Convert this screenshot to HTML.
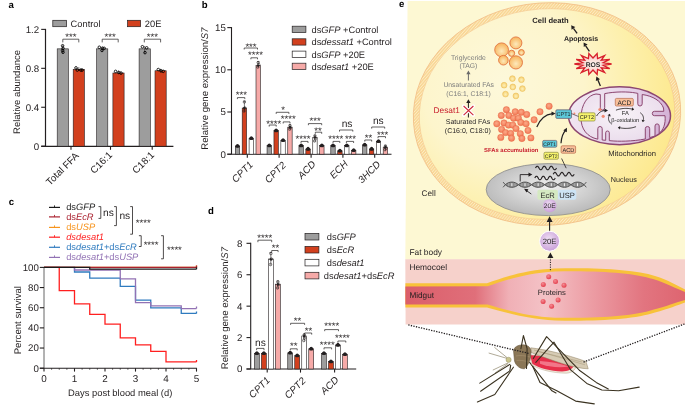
<!DOCTYPE html>
<html><head><meta charset="utf-8"><style>
html,body{margin:0;padding:0;background:#fff;}
svg{display:block;will-change:transform;}
text{font-family:"Liberation Sans", sans-serif;text-rendering:geometricPrecision;}
</style></head><body>
<svg width="685" height="406" viewBox="0 0 685 406">
<text x="8.60" y="7.90" font-size="9.6" text-anchor="start" fill="#000" font-weight="bold" font-style="normal" >a</text>
<line x1="45.50" y1="28.88" x2="45.50" y2="146.80" stroke="#231f20" stroke-width="1.2" />
<line x1="41.20" y1="146.40" x2="173.40" y2="146.40" stroke="#231f20" stroke-width="1.2" />
<line x1="41.20" y1="29.38" x2="45.50" y2="29.38" stroke="#231f20" stroke-width="1.1" />
<text x="39.20" y="32.83" font-size="9.7" text-anchor="end" fill="#231f20" font-weight="normal" font-style="normal" >1.2</text>
<line x1="41.20" y1="68.32" x2="45.50" y2="68.32" stroke="#231f20" stroke-width="1.1" />
<text x="39.20" y="71.77" font-size="9.7" text-anchor="end" fill="#231f20" font-weight="normal" font-style="normal" >0.8</text>
<line x1="41.20" y1="107.26" x2="45.50" y2="107.26" stroke="#231f20" stroke-width="1.1" />
<text x="39.20" y="110.71" font-size="9.7" text-anchor="end" fill="#231f20" font-weight="normal" font-style="normal" >0.4</text>
<line x1="41.20" y1="146.20" x2="45.50" y2="146.20" stroke="#231f20" stroke-width="1.1" />
<text x="39.20" y="149.65" font-size="9.7" text-anchor="end" fill="#231f20" font-weight="normal" font-style="normal" >0</text>
<line x1="71.00" y1="146.20" x2="71.00" y2="149.80" stroke="#231f20" stroke-width="1.1" />
<line x1="110.50" y1="146.20" x2="110.50" y2="149.80" stroke="#231f20" stroke-width="1.1" />
<line x1="152.20" y1="146.20" x2="152.20" y2="149.80" stroke="#231f20" stroke-width="1.1" />
<rect x="57.20" y="48.85" width="11.20" height="97.35" fill="#9d9d9d" stroke="#231f20" stroke-width="0.6" />
<line x1="62.80" y1="44.95" x2="62.80" y2="53.05" stroke="#231f20" stroke-width="0.6" />
<circle cx="62.60" cy="45.75" r="1.30" fill="none" stroke="#000" stroke-width="0.85" />
<circle cx="63.00" cy="48.35" r="1.30" fill="none" stroke="#000" stroke-width="0.85" />
<circle cx="62.60" cy="50.45" r="1.30" fill="none" stroke="#000" stroke-width="0.85" />
<circle cx="63.00" cy="52.25" r="1.30" fill="none" stroke="#000" stroke-width="0.85" />
<rect x="73.20" y="69.29" width="11.20" height="76.91" fill="#d2401e" stroke="#231f20" stroke-width="0.6" />
<line x1="78.80" y1="67.09" x2="78.80" y2="70.89" stroke="#231f20" stroke-width="0.6" />
<circle cx="76.00" cy="67.89" r="1.30" fill="none" stroke="#000" stroke-width="0.85" />
<circle cx="77.30" cy="70.09" r="1.30" fill="none" stroke="#000" stroke-width="0.85" />
<circle cx="80.80" cy="70.09" r="1.30" fill="none" stroke="#000" stroke-width="0.85" />
<circle cx="82.10" cy="70.09" r="1.30" fill="none" stroke="#000" stroke-width="0.85" />
<rect x="96.60" y="48.85" width="11.20" height="97.35" fill="#9d9d9d" stroke="#231f20" stroke-width="0.6" />
<line x1="102.20" y1="46.45" x2="102.20" y2="51.25" stroke="#231f20" stroke-width="0.6" />
<circle cx="99.30" cy="47.25" r="1.30" fill="none" stroke="#000" stroke-width="0.85" />
<circle cx="102.60" cy="48.35" r="1.30" fill="none" stroke="#000" stroke-width="0.85" />
<circle cx="104.20" cy="48.35" r="1.30" fill="none" stroke="#000" stroke-width="0.85" />
<circle cx="102.00" cy="50.45" r="1.30" fill="none" stroke="#000" stroke-width="0.85" />
<rect x="112.90" y="72.99" width="11.20" height="73.21" fill="#d2401e" stroke="#231f20" stroke-width="0.6" />
<line x1="118.50" y1="70.59" x2="118.50" y2="73.89" stroke="#231f20" stroke-width="0.6" />
<circle cx="115.60" cy="71.39" r="1.30" fill="none" stroke="#000" stroke-width="0.85" />
<circle cx="118.80" cy="72.49" r="1.30" fill="none" stroke="#000" stroke-width="0.85" />
<circle cx="121.00" cy="73.09" r="1.30" fill="none" stroke="#000" stroke-width="0.85" />
<rect x="139.10" y="48.85" width="11.20" height="97.35" fill="#9d9d9d" stroke="#231f20" stroke-width="0.6" />
<line x1="144.70" y1="45.95" x2="144.70" y2="53.45" stroke="#231f20" stroke-width="0.6" />
<circle cx="142.40" cy="46.75" r="1.30" fill="none" stroke="#000" stroke-width="0.85" />
<circle cx="146.70" cy="47.85" r="1.30" fill="none" stroke="#000" stroke-width="0.85" />
<circle cx="145.00" cy="52.65" r="1.30" fill="none" stroke="#000" stroke-width="0.85" />
<rect x="155.00" y="70.75" width="11.20" height="75.45" fill="#d2401e" stroke="#231f20" stroke-width="0.6" />
<line x1="160.60" y1="68.75" x2="160.60" y2="72.15" stroke="#231f20" stroke-width="0.6" />
<circle cx="158.30" cy="69.55" r="1.30" fill="none" stroke="#000" stroke-width="0.85" />
<circle cx="161.00" cy="70.85" r="1.30" fill="none" stroke="#000" stroke-width="0.85" />
<circle cx="163.20" cy="71.35" r="1.30" fill="none" stroke="#000" stroke-width="0.85" />
<path d="M62.80,42.40 V39.20 H78.80 V42.40" fill="none" stroke="#231f20" stroke-width="0.7" />
<text x="70.80" y="39.70" font-size="9.6" text-anchor="middle" fill="#231f20" font-weight="normal" font-style="normal" >***</text>
<path d="M102.20,42.40 V39.20 H118.20 V42.40" fill="none" stroke="#231f20" stroke-width="0.7" />
<text x="110.20" y="39.70" font-size="9.6" text-anchor="middle" fill="#231f20" font-weight="normal" font-style="normal" >***</text>
<path d="M144.30,42.40 V39.20 H160.60 V42.40" fill="none" stroke="#231f20" stroke-width="0.7" />
<text x="152.45" y="39.70" font-size="9.6" text-anchor="middle" fill="#231f20" font-weight="normal" font-style="normal" >***</text>
<rect x="52.80" y="20.30" width="13.80" height="6.40" fill="#9d9d9d" stroke="#231f20" stroke-width="0.7" />
<text x="70.60" y="26.50" font-size="9.3" text-anchor="start" fill="#231f20" font-weight="normal" font-style="normal" >Control</text>
<rect x="127.60" y="20.30" width="13.00" height="6.40" fill="#d2401e" stroke="#231f20" stroke-width="0.7" />
<text x="144.80" y="26.50" font-size="9.3" text-anchor="start" fill="#231f20" font-weight="normal" font-style="normal" >20E</text>
<text transform="translate(19.5,92) rotate(-90)" font-size="9.5" text-anchor="middle" fill="#231f20">Relative abundance</text>
<text transform="translate(64.75,171.15) rotate(-45)" font-size="9.9" text-anchor="middle" fill="#231f20" font-style="normal" font-weight="normal">Total FFA</text>
<text transform="translate(103.50,164.95) rotate(-45)" font-size="9.9" text-anchor="middle" fill="#231f20" font-style="normal" font-weight="normal">C16:1</text>
<text transform="translate(145.55,164.95) rotate(-45)" font-size="9.9" text-anchor="middle" fill="#231f20" font-style="normal" font-weight="normal">C18:1</text>
<text x="201.80" y="7.90" font-size="9.6" text-anchor="start" fill="#000" font-weight="bold" font-style="normal" >b</text>
<line x1="231.50" y1="27.10" x2="231.50" y2="154.20" stroke="#231f20" stroke-width="1.1" />
<line x1="227.30" y1="154.20" x2="391.50" y2="154.20" stroke="#231f20" stroke-width="1.1" />
<line x1="227.30" y1="27.60" x2="231.50" y2="27.60" stroke="#231f20" stroke-width="1.1" />
<text x="225.80" y="31.05" font-size="9.7" text-anchor="end" fill="#231f20" font-weight="normal" font-style="normal" >15</text>
<line x1="227.30" y1="69.80" x2="231.50" y2="69.80" stroke="#231f20" stroke-width="1.1" />
<text x="225.80" y="73.25" font-size="9.7" text-anchor="end" fill="#231f20" font-weight="normal" font-style="normal" >10</text>
<line x1="227.30" y1="112.00" x2="231.50" y2="112.00" stroke="#231f20" stroke-width="1.1" />
<text x="225.80" y="115.45" font-size="9.7" text-anchor="end" fill="#231f20" font-weight="normal" font-style="normal" >5</text>
<line x1="227.30" y1="154.20" x2="231.50" y2="154.20" stroke="#231f20" stroke-width="1.1" />
<text x="225.80" y="157.65" font-size="9.7" text-anchor="end" fill="#231f20" font-weight="normal" font-style="normal" >0</text>
<line x1="247.30" y1="154.20" x2="247.30" y2="157.80" stroke="#231f20" stroke-width="1.1" />
<line x1="279.10" y1="154.20" x2="279.10" y2="157.80" stroke="#231f20" stroke-width="1.1" />
<line x1="311.10" y1="154.20" x2="311.10" y2="157.80" stroke="#231f20" stroke-width="1.1" />
<line x1="342.90" y1="154.20" x2="342.90" y2="157.80" stroke="#231f20" stroke-width="1.1" />
<line x1="374.70" y1="154.20" x2="374.70" y2="157.80" stroke="#231f20" stroke-width="1.1" />
<rect x="235.30" y="146.01" width="4.40" height="8.19" fill="#9d9d9d" stroke="#231f20" stroke-width="0.6" />
<circle cx="236.80" cy="146.21" r="1.50" fill="#231f20" stroke="none" stroke-width="0.5" />
<circle cx="238.20" cy="146.21" r="1.50" fill="#231f20" stroke="none" stroke-width="0.5" />
<circle cx="237.50" cy="145.41" r="1.50" fill="#231f20" stroke="none" stroke-width="0.5" />
<rect x="242.20" y="108.03" width="4.40" height="46.17" fill="#d2401e" stroke="#231f20" stroke-width="0.6" />
<line x1="244.40" y1="101.03" x2="244.40" y2="112.03" stroke="#231f20" stroke-width="0.6" />
<line x1="243.20" y1="101.03" x2="245.60" y2="101.03" stroke="#231f20" stroke-width="0.6" />
<circle cx="244.40" cy="102.03" r="1.25" fill="none" stroke="#231f20" stroke-width="0.55" />
<circle cx="244.90" cy="108.03" r="1.25" fill="none" stroke="#231f20" stroke-width="0.55" />
<circle cx="244.00" cy="111.03" r="1.25" fill="none" stroke="#231f20" stroke-width="0.55" />
<circle cx="244.40" cy="108.03" r="1.20" fill="#231f20" stroke="none" stroke-width="0.5" />
<rect x="249.10" y="138.33" width="4.40" height="15.87" fill="#ffffff" stroke="#231f20" stroke-width="0.6" />
<circle cx="250.60" cy="138.53" r="1.50" fill="#231f20" stroke="none" stroke-width="0.5" />
<circle cx="252.00" cy="138.53" r="1.50" fill="#231f20" stroke="none" stroke-width="0.5" />
<circle cx="251.30" cy="137.73" r="1.50" fill="#231f20" stroke="none" stroke-width="0.5" />
<rect x="256.00" y="65.58" width="4.40" height="88.62" fill="#f6aaa8" stroke="#231f20" stroke-width="0.6" />
<line x1="258.20" y1="61.58" x2="258.20" y2="68.08" stroke="#231f20" stroke-width="0.6" />
<line x1="257.00" y1="61.58" x2="259.40" y2="61.58" stroke="#231f20" stroke-width="0.6" />
<circle cx="258.20" cy="62.58" r="1.25" fill="none" stroke="#231f20" stroke-width="0.55" />
<circle cx="258.70" cy="64.58" r="1.25" fill="none" stroke="#231f20" stroke-width="0.55" />
<circle cx="257.80" cy="67.08" r="1.25" fill="none" stroke="#231f20" stroke-width="0.55" />
<circle cx="258.20" cy="65.58" r="1.20" fill="#231f20" stroke="none" stroke-width="0.5" />
<rect x="267.05" y="145.51" width="4.40" height="8.69" fill="#9d9d9d" stroke="#231f20" stroke-width="0.6" />
<circle cx="268.55" cy="145.71" r="1.50" fill="#231f20" stroke="none" stroke-width="0.5" />
<circle cx="269.95" cy="145.71" r="1.50" fill="#231f20" stroke="none" stroke-width="0.5" />
<circle cx="269.25" cy="144.91" r="1.50" fill="#231f20" stroke="none" stroke-width="0.5" />
<rect x="273.95" y="130.57" width="4.40" height="23.63" fill="#d2401e" stroke="#231f20" stroke-width="0.6" />
<circle cx="275.45" cy="130.77" r="1.50" fill="#231f20" stroke="none" stroke-width="0.5" />
<circle cx="276.85" cy="130.77" r="1.50" fill="#231f20" stroke="none" stroke-width="0.5" />
<circle cx="276.15" cy="129.97" r="1.50" fill="#231f20" stroke="none" stroke-width="0.5" />
<rect x="280.85" y="140.36" width="4.40" height="13.84" fill="#ffffff" stroke="#231f20" stroke-width="0.6" />
<circle cx="282.35" cy="140.56" r="1.50" fill="#231f20" stroke="none" stroke-width="0.5" />
<circle cx="283.75" cy="140.56" r="1.50" fill="#231f20" stroke="none" stroke-width="0.5" />
<circle cx="283.05" cy="139.76" r="1.50" fill="#231f20" stroke="none" stroke-width="0.5" />
<rect x="287.75" y="127.19" width="4.40" height="27.01" fill="#f6aaa8" stroke="#231f20" stroke-width="0.6" />
<line x1="289.95" y1="124.69" x2="289.95" y2="130.19" stroke="#231f20" stroke-width="0.6" />
<line x1="288.75" y1="124.69" x2="291.15" y2="124.69" stroke="#231f20" stroke-width="0.6" />
<circle cx="289.95" cy="125.69" r="1.25" fill="none" stroke="#231f20" stroke-width="0.55" />
<circle cx="290.45" cy="127.69" r="1.25" fill="none" stroke="#231f20" stroke-width="0.55" />
<circle cx="289.55" cy="129.19" r="1.25" fill="none" stroke="#231f20" stroke-width="0.55" />
<circle cx="289.95" cy="127.19" r="1.20" fill="#231f20" stroke="none" stroke-width="0.5" />
<rect x="298.95" y="145.51" width="4.40" height="8.69" fill="#9d9d9d" stroke="#231f20" stroke-width="0.6" />
<circle cx="300.45" cy="145.71" r="1.50" fill="#231f20" stroke="none" stroke-width="0.5" />
<circle cx="301.85" cy="145.71" r="1.50" fill="#231f20" stroke="none" stroke-width="0.5" />
<circle cx="301.15" cy="144.91" r="1.50" fill="#231f20" stroke="none" stroke-width="0.5" />
<rect x="305.85" y="148.97" width="4.40" height="5.23" fill="#d2401e" stroke="#231f20" stroke-width="0.6" />
<circle cx="307.35" cy="149.17" r="1.50" fill="#231f20" stroke="none" stroke-width="0.5" />
<circle cx="308.75" cy="149.17" r="1.50" fill="#231f20" stroke="none" stroke-width="0.5" />
<circle cx="308.05" cy="148.37" r="1.50" fill="#231f20" stroke="none" stroke-width="0.5" />
<rect x="312.75" y="137.49" width="4.40" height="16.71" fill="#ffffff" stroke="#231f20" stroke-width="0.6" />
<line x1="314.95" y1="134.99" x2="314.95" y2="141.99" stroke="#231f20" stroke-width="0.6" />
<line x1="313.75" y1="134.99" x2="316.15" y2="134.99" stroke="#231f20" stroke-width="0.6" />
<circle cx="314.95" cy="135.99" r="1.25" fill="none" stroke="#231f20" stroke-width="0.55" />
<circle cx="315.45" cy="138.49" r="1.25" fill="none" stroke="#231f20" stroke-width="0.55" />
<circle cx="314.55" cy="140.99" r="1.25" fill="none" stroke="#231f20" stroke-width="0.55" />
<circle cx="314.95" cy="137.49" r="1.20" fill="#231f20" stroke="none" stroke-width="0.5" />
<rect x="319.65" y="145.51" width="4.40" height="8.69" fill="#f6aaa8" stroke="#231f20" stroke-width="0.6" />
<circle cx="321.15" cy="145.71" r="1.50" fill="#231f20" stroke="none" stroke-width="0.5" />
<circle cx="322.55" cy="145.71" r="1.50" fill="#231f20" stroke="none" stroke-width="0.5" />
<circle cx="321.85" cy="144.91" r="1.50" fill="#231f20" stroke="none" stroke-width="0.5" />
<rect x="330.80" y="145.51" width="4.40" height="8.69" fill="#9d9d9d" stroke="#231f20" stroke-width="0.6" />
<circle cx="332.30" cy="145.71" r="1.50" fill="#231f20" stroke="none" stroke-width="0.5" />
<circle cx="333.70" cy="145.71" r="1.50" fill="#231f20" stroke="none" stroke-width="0.5" />
<circle cx="333.00" cy="144.91" r="1.50" fill="#231f20" stroke="none" stroke-width="0.5" />
<rect x="337.70" y="150.74" width="4.40" height="3.46" fill="#d2401e" stroke="#231f20" stroke-width="0.6" />
<circle cx="339.20" cy="150.94" r="1.50" fill="#231f20" stroke="none" stroke-width="0.5" />
<circle cx="340.60" cy="150.94" r="1.50" fill="#231f20" stroke="none" stroke-width="0.5" />
<circle cx="339.90" cy="150.14" r="1.50" fill="#231f20" stroke="none" stroke-width="0.5" />
<rect x="344.60" y="145.51" width="4.40" height="8.69" fill="#ffffff" stroke="#231f20" stroke-width="0.6" />
<circle cx="346.10" cy="145.71" r="1.50" fill="#231f20" stroke="none" stroke-width="0.5" />
<circle cx="347.50" cy="145.71" r="1.50" fill="#231f20" stroke="none" stroke-width="0.5" />
<circle cx="346.80" cy="144.91" r="1.50" fill="#231f20" stroke="none" stroke-width="0.5" />
<rect x="351.50" y="150.32" width="4.40" height="3.88" fill="#f6aaa8" stroke="#231f20" stroke-width="0.6" />
<circle cx="353.00" cy="150.52" r="1.50" fill="#231f20" stroke="none" stroke-width="0.5" />
<circle cx="354.40" cy="150.52" r="1.50" fill="#231f20" stroke="none" stroke-width="0.5" />
<circle cx="353.70" cy="149.72" r="1.50" fill="#231f20" stroke="none" stroke-width="0.5" />
<rect x="362.50" y="144.92" width="4.40" height="9.28" fill="#9d9d9d" stroke="#231f20" stroke-width="0.6" />
<circle cx="364.00" cy="145.12" r="1.50" fill="#231f20" stroke="none" stroke-width="0.5" />
<circle cx="365.40" cy="145.12" r="1.50" fill="#231f20" stroke="none" stroke-width="0.5" />
<circle cx="364.70" cy="144.32" r="1.50" fill="#231f20" stroke="none" stroke-width="0.5" />
<rect x="369.40" y="148.97" width="4.40" height="5.23" fill="#d2401e" stroke="#231f20" stroke-width="0.6" />
<circle cx="370.90" cy="149.17" r="1.50" fill="#231f20" stroke="none" stroke-width="0.5" />
<circle cx="372.30" cy="149.17" r="1.50" fill="#231f20" stroke="none" stroke-width="0.5" />
<circle cx="371.60" cy="148.37" r="1.50" fill="#231f20" stroke="none" stroke-width="0.5" />
<rect x="376.30" y="141.37" width="4.40" height="12.83" fill="#ffffff" stroke="#231f20" stroke-width="0.6" />
<circle cx="377.80" cy="141.57" r="1.50" fill="#231f20" stroke="none" stroke-width="0.5" />
<circle cx="379.20" cy="141.57" r="1.50" fill="#231f20" stroke="none" stroke-width="0.5" />
<circle cx="378.50" cy="140.77" r="1.50" fill="#231f20" stroke="none" stroke-width="0.5" />
<rect x="383.20" y="147.19" width="4.40" height="7.01" fill="#f6aaa8" stroke="#231f20" stroke-width="0.6" />
<line x1="385.40" y1="145.19" x2="385.40" y2="150.69" stroke="#231f20" stroke-width="0.6" />
<line x1="384.20" y1="145.19" x2="386.60" y2="145.19" stroke="#231f20" stroke-width="0.6" />
<circle cx="385.40" cy="146.19" r="1.25" fill="none" stroke="#231f20" stroke-width="0.55" />
<circle cx="385.90" cy="148.19" r="1.25" fill="none" stroke="#231f20" stroke-width="0.55" />
<circle cx="385.00" cy="149.69" r="1.25" fill="none" stroke="#231f20" stroke-width="0.55" />
<circle cx="385.40" cy="147.19" r="1.20" fill="#231f20" stroke="none" stroke-width="0.5" />
<rect x="292.20" y="26.20" width="13.70" height="6.30" fill="#9d9d9d" stroke="#231f20" stroke-width="0.7" />
<text x="311.50" y="32.80" font-size="9.3" text-anchor="start" fill="#231f20" font-weight="normal" font-style="normal" >ds<tspan font-style="italic">GFP</tspan> +Control</text>
<rect x="292.20" y="38.80" width="13.70" height="6.30" fill="#d2401e" stroke="#231f20" stroke-width="0.7" />
<text x="311.50" y="45.40" font-size="9.3" text-anchor="start" fill="#231f20" font-weight="normal" font-style="normal" >ds<tspan font-style="italic">dessat1</tspan> +Control</text>
<rect x="292.20" y="51.10" width="13.70" height="6.30" fill="#ffffff" stroke="#231f20" stroke-width="0.7" />
<text x="311.50" y="57.70" font-size="9.3" text-anchor="start" fill="#231f20" font-weight="normal" font-style="normal" >ds<tspan font-style="italic">GFP</tspan> +20E</text>
<rect x="292.20" y="63.20" width="13.70" height="6.30" fill="#f6aaa8" stroke="#231f20" stroke-width="0.7" />
<text x="311.50" y="69.80" font-size="9.3" text-anchor="start" fill="#231f20" font-weight="normal" font-style="normal" >ds<tspan font-style="italic">desat1</tspan> +20E</text>
<text transform="translate(208.2,88.6) rotate(-90)" font-size="9.6" text-anchor="middle" fill="#231f20">Relative gene expression/<tspan font-style="italic">S7</tspan></text>
<text transform="translate(244.65,174.20) rotate(-45)" font-size="9.9" text-anchor="middle" fill="#231f20" font-style="italic" font-weight="normal">CPT1</text>
<text transform="translate(277.60,174.70) rotate(-45)" font-size="9.9" text-anchor="middle" fill="#231f20" font-style="italic" font-weight="normal">CPT2</text>
<text transform="translate(309.00,172.05) rotate(-45)" font-size="9.9" text-anchor="middle" fill="#231f20" font-style="italic" font-weight="normal">ACD</text>
<text transform="translate(341.05,171.90) rotate(-45)" font-size="9.9" text-anchor="middle" fill="#231f20" font-style="italic" font-weight="normal">ECH</text>
<text transform="translate(371.55,174.35) rotate(-45)" font-size="9.9" text-anchor="middle" fill="#231f20" font-style="italic" font-weight="normal">3HCD</text>
<path d="M237.40,99.10 V97.60 H244.80 V99.10" fill="none" stroke="#231f20" stroke-width="0.7" />
<text x="241.30" y="97.50" font-size="9.6" text-anchor="middle" fill="#231f20" font-weight="normal" font-style="normal" >***</text>
<path d="M244.20,49.50 V48.00 H257.50 V49.50" fill="none" stroke="#231f20" stroke-width="0.7" />
<text x="251.00" y="49.70" font-size="9.6" text-anchor="middle" fill="#231f20" font-weight="normal" font-style="normal" >***</text>
<path d="M250.90,59.30 V57.80 H257.50 V59.30" fill="none" stroke="#231f20" stroke-width="0.7" />
<text x="255.50" y="58.30" font-size="9.6" text-anchor="middle" fill="#231f20" font-weight="normal" font-style="normal" >****</text>
<path d="M276.20,113.90 V112.30 H288.90 V113.90" fill="none" stroke="#231f20" stroke-width="0.7" />
<text x="283.20" y="112.60" font-size="9.6" text-anchor="middle" fill="#231f20" font-weight="normal" font-style="normal" >*</text>
<path d="M269.20,126.60 V125.00 H276.20 V126.60" fill="none" stroke="#231f20" stroke-width="0.7" />
<text x="273.70" y="126.60" font-size="9.6" text-anchor="middle" fill="#231f20" font-weight="normal" font-style="normal" >****</text>
<path d="M283.20,123.50 V121.90 H290.00 V123.50" fill="none" stroke="#231f20" stroke-width="0.7" />
<text x="288.20" y="122.10" font-size="9.6" text-anchor="middle" fill="#231f20" font-weight="normal" font-style="normal" >****</text>
<path d="M301.00,143.00 V141.40 H308.00 V143.00" fill="none" stroke="#231f20" stroke-width="0.7" />
<text x="303.00" y="141.50" font-size="9.6" text-anchor="middle" fill="#231f20" font-weight="normal" font-style="normal" >****</text>
<path d="M308.40,125.20 V123.60 H321.70 V125.20" fill="none" stroke="#231f20" stroke-width="0.7" />
<text x="315.10" y="124.20" font-size="9.6" text-anchor="middle" fill="#231f20" font-weight="normal" font-style="normal" >***</text>
<path d="M315.30,133.80 V132.20 H321.70 V133.80" fill="none" stroke="#231f20" stroke-width="0.7" />
<text x="317.90" y="133.70" font-size="9.6" text-anchor="middle" fill="#231f20" font-weight="normal" font-style="normal" >**</text>
<path d="M333.00,143.00 V141.40 H339.80 V143.00" fill="none" stroke="#231f20" stroke-width="0.7" />
<text x="335.80" y="141.50" font-size="9.6" text-anchor="middle" fill="#231f20" font-weight="normal" font-style="normal" >****</text>
<path d="M339.50,131.60 V130.00 H352.80 V131.60" fill="none" stroke="#231f20" stroke-width="0.7" />
<text x="347.10" y="126.65" font-size="10.2" text-anchor="middle" fill="#231f20" font-weight="normal" font-style="normal" >ns</text>
<path d="M346.40,143.00 V141.40 H353.60 V143.00" fill="none" stroke="#231f20" stroke-width="0.7" />
<text x="350.50" y="142.30" font-size="9.6" text-anchor="middle" fill="#231f20" font-weight="normal" font-style="normal" >***</text>
<path d="M364.80,141.60 V140.00 H371.70 V141.60" fill="none" stroke="#231f20" stroke-width="0.7" />
<text x="368.50" y="140.60" font-size="9.6" text-anchor="middle" fill="#231f20" font-weight="normal" font-style="normal" >**</text>
<path d="M371.70,128.60 V127.00 H384.70 V128.60" fill="none" stroke="#231f20" stroke-width="0.7" />
<text x="378.30" y="124.15" font-size="10.2" text-anchor="middle" fill="#231f20" font-weight="normal" font-style="normal" >ns</text>
<path d="M378.00,138.20 V136.60 H385.50 V138.20" fill="none" stroke="#231f20" stroke-width="0.7" />
<text x="382.70" y="137.70" font-size="9.6" text-anchor="middle" fill="#231f20" font-weight="normal" font-style="normal" >***</text>
<text x="8.80" y="204.60" font-size="9.6" text-anchor="start" fill="#000" font-weight="bold" font-style="normal" >c</text>
<line x1="44.00" y1="267.00" x2="44.00" y2="368.20" stroke="#555" stroke-width="0.9" />
<line x1="39.80" y1="368.20" x2="196.90" y2="368.20" stroke="#231f20" stroke-width="1.1" />
<line x1="39.80" y1="267.40" x2="44.00" y2="267.40" stroke="#231f20" stroke-width="1.1" />
<text x="38.80" y="270.85" font-size="9.7" text-anchor="end" fill="#231f20" font-weight="normal" font-style="normal" >100</text>
<line x1="39.80" y1="287.56" x2="44.00" y2="287.56" stroke="#231f20" stroke-width="1.1" />
<text x="38.80" y="291.01" font-size="9.7" text-anchor="end" fill="#231f20" font-weight="normal" font-style="normal" >80</text>
<line x1="39.80" y1="307.72" x2="44.00" y2="307.72" stroke="#231f20" stroke-width="1.1" />
<text x="38.80" y="311.17" font-size="9.7" text-anchor="end" fill="#231f20" font-weight="normal" font-style="normal" >60</text>
<line x1="39.80" y1="327.88" x2="44.00" y2="327.88" stroke="#231f20" stroke-width="1.1" />
<text x="38.80" y="331.33" font-size="9.7" text-anchor="end" fill="#231f20" font-weight="normal" font-style="normal" >40</text>
<line x1="39.80" y1="348.04" x2="44.00" y2="348.04" stroke="#231f20" stroke-width="1.1" />
<text x="38.80" y="351.49" font-size="9.7" text-anchor="end" fill="#231f20" font-weight="normal" font-style="normal" >20</text>
<line x1="39.80" y1="368.20" x2="44.00" y2="368.20" stroke="#231f20" stroke-width="1.1" />
<text x="38.80" y="371.65" font-size="9.7" text-anchor="end" fill="#231f20" font-weight="normal" font-style="normal" >0</text>
<line x1="44.00" y1="368.20" x2="44.00" y2="371.60" stroke="#231f20" stroke-width="1.1" />
<text x="44.00" y="382.40" font-size="9.9" text-anchor="middle" fill="#231f20" font-weight="normal" font-style="normal" >0</text>
<line x1="51.62" y1="368.20" x2="51.62" y2="369.80" stroke="#231f20" stroke-width="0.7" />
<line x1="59.25" y1="368.20" x2="59.25" y2="369.80" stroke="#231f20" stroke-width="0.7" />
<line x1="66.88" y1="368.20" x2="66.88" y2="369.80" stroke="#231f20" stroke-width="0.7" />
<line x1="74.50" y1="368.20" x2="74.50" y2="371.60" stroke="#231f20" stroke-width="1.1" />
<text x="74.50" y="382.40" font-size="9.9" text-anchor="middle" fill="#231f20" font-weight="normal" font-style="normal" >1</text>
<line x1="82.12" y1="368.20" x2="82.12" y2="369.80" stroke="#231f20" stroke-width="0.7" />
<line x1="89.75" y1="368.20" x2="89.75" y2="369.80" stroke="#231f20" stroke-width="0.7" />
<line x1="97.38" y1="368.20" x2="97.38" y2="369.80" stroke="#231f20" stroke-width="0.7" />
<line x1="105.00" y1="368.20" x2="105.00" y2="371.60" stroke="#231f20" stroke-width="1.1" />
<text x="105.00" y="382.40" font-size="9.9" text-anchor="middle" fill="#231f20" font-weight="normal" font-style="normal" >2</text>
<line x1="112.62" y1="368.20" x2="112.62" y2="369.80" stroke="#231f20" stroke-width="0.7" />
<line x1="120.25" y1="368.20" x2="120.25" y2="369.80" stroke="#231f20" stroke-width="0.7" />
<line x1="127.88" y1="368.20" x2="127.88" y2="369.80" stroke="#231f20" stroke-width="0.7" />
<line x1="135.50" y1="368.20" x2="135.50" y2="371.60" stroke="#231f20" stroke-width="1.1" />
<text x="135.50" y="382.40" font-size="9.9" text-anchor="middle" fill="#231f20" font-weight="normal" font-style="normal" >3</text>
<line x1="143.12" y1="368.20" x2="143.12" y2="369.80" stroke="#231f20" stroke-width="0.7" />
<line x1="150.75" y1="368.20" x2="150.75" y2="369.80" stroke="#231f20" stroke-width="0.7" />
<line x1="158.38" y1="368.20" x2="158.38" y2="369.80" stroke="#231f20" stroke-width="0.7" />
<line x1="166.00" y1="368.20" x2="166.00" y2="371.60" stroke="#231f20" stroke-width="1.1" />
<text x="166.00" y="382.40" font-size="9.9" text-anchor="middle" fill="#231f20" font-weight="normal" font-style="normal" >4</text>
<line x1="173.62" y1="368.20" x2="173.62" y2="369.80" stroke="#231f20" stroke-width="0.7" />
<line x1="181.25" y1="368.20" x2="181.25" y2="369.80" stroke="#231f20" stroke-width="0.7" />
<line x1="188.88" y1="368.20" x2="188.88" y2="369.80" stroke="#231f20" stroke-width="0.7" />
<line x1="196.50" y1="368.20" x2="196.50" y2="371.60" stroke="#231f20" stroke-width="1.1" />
<text x="196.50" y="382.40" font-size="9.9" text-anchor="middle" fill="#231f20" font-weight="normal" font-style="normal" >5</text>
<text x="120.20" y="395.70" font-size="9.4" text-anchor="middle" fill="#231f20" font-weight="normal" font-style="normal" >Days post blood meal (d)</text>
<text transform="translate(21.0,320.2) rotate(-90)" font-size="9.6" text-anchor="middle" fill="#231f20">Percent survival</text>
<path d="M44.00,267.40 H59.25 V290.60 H74.50 V303.90 H89.75 V314.40 H105.00 V324.20 H120.25 V337.80 H135.50 V344.80 H150.75 V351.40 H166.00 V361.90 H196.50 m0,0 v-2" fill="none" stroke="#ff1f1f" stroke-width="1.3" stroke-linejoin="miter"/>
<path d="M44.00,267.40 H74.50 V272.00 H89.75 V278.10 H120.25 V286.30 H135.50 V300.10 H150.75 V307.90 H181.25 V313.40 H196.50 m0,0 v-2" fill="none" stroke="#2f7bbf" stroke-width="1.3" stroke-linejoin="miter"/>
<path d="M44.00,267.40 H74.50 V270.00 H120.25 V278.80 H135.50 V302.70 H150.75 V305.80 H181.25 V308.60 H196.50 m0,0 v-2" fill="none" stroke="#9272b4" stroke-width="1.3" stroke-linejoin="miter"/>
<path d="M44.00,267.40 H196.50 m0,0 v-2" fill="none" stroke="#f7941d" stroke-width="1.3" stroke-linejoin="miter"/>
<path d="M44.00,267.40 H196.50 m0,0 v-2" fill="none" stroke="#aa2230" stroke-width="1.3" stroke-linejoin="miter"/>
<path d="M44.00,267.40 H89.75 V269.20 H196.50 m0,0 v-2" fill="none" stroke="#1a1a1a" stroke-width="1.3" stroke-linejoin="miter"/>
<line x1="49.00" y1="207.40" x2="60.00" y2="207.40" stroke="#1a1a1a" stroke-width="1.2" />
<line x1="54.50" y1="207.40" x2="54.50" y2="205.40" stroke="#1a1a1a" stroke-width="0.9" />
<text x="66.20" y="210.40" font-size="9.3" text-anchor="start" fill="#1a1a1a" font-weight="normal" font-style="normal" >ds<tspan font-style="italic">GFP</tspan></text>
<line x1="49.00" y1="216.90" x2="60.00" y2="216.90" stroke="#aa2230" stroke-width="1.2" />
<line x1="54.50" y1="216.90" x2="54.50" y2="214.90" stroke="#aa2230" stroke-width="0.9" />
<text x="66.20" y="219.90" font-size="9.3" text-anchor="start" fill="#aa2230" font-weight="normal" font-style="normal" >ds<tspan font-style="italic">EcR</tspan></text>
<line x1="49.00" y1="227.40" x2="60.00" y2="227.40" stroke="#f7941d" stroke-width="1.2" />
<line x1="54.50" y1="227.40" x2="54.50" y2="225.40" stroke="#f7941d" stroke-width="0.9" />
<text x="66.20" y="230.40" font-size="9.3" text-anchor="start" fill="#f7941d" font-weight="normal" font-style="normal" >ds<tspan font-style="italic">USP</tspan></text>
<line x1="49.00" y1="237.20" x2="60.00" y2="237.20" stroke="#ff1f1f" stroke-width="1.2" />
<line x1="54.50" y1="237.20" x2="54.50" y2="235.20" stroke="#ff1f1f" stroke-width="0.9" />
<text x="66.20" y="240.20" font-size="9.3" text-anchor="start" fill="#ff1f1f" font-weight="normal" font-style="normal" ><tspan font-style="italic">dsdesat1</tspan></text>
<line x1="49.00" y1="247.30" x2="60.00" y2="247.30" stroke="#2f7bbf" stroke-width="1.2" />
<line x1="54.50" y1="247.30" x2="54.50" y2="245.30" stroke="#2f7bbf" stroke-width="0.9" />
<text x="66.20" y="250.30" font-size="9.3" text-anchor="start" fill="#2f7bbf" font-weight="normal" font-style="normal" >ds<tspan font-style="italic">desat1</tspan>+ds<tspan font-style="italic">EcR</tspan></text>
<line x1="49.00" y1="257.40" x2="60.00" y2="257.40" stroke="#9272b4" stroke-width="1.2" />
<line x1="54.50" y1="257.40" x2="54.50" y2="255.40" stroke="#9272b4" stroke-width="0.9" />
<text x="66.20" y="260.40" font-size="9.3" text-anchor="start" fill="#9272b4" font-weight="normal" font-style="normal" >ds<tspan font-style="italic">desat1</tspan>+ds<tspan font-style="italic">USP</tspan></text>
<path d="M98.50,206.60 H100.80 V218.40 H98.50" fill="none" stroke="#231f20" stroke-width="0.8" />
<text x="108.40" y="215.95" font-size="10.2" text-anchor="middle" fill="#231f20" font-weight="normal" font-style="normal" >ns</text>
<path d="M114.10,206.60 H116.40 V225.60 H114.10" fill="none" stroke="#231f20" stroke-width="0.8" />
<text x="124.80" y="219.35" font-size="10.2" text-anchor="middle" fill="#231f20" font-weight="normal" font-style="normal" >ns</text>
<path d="M130.20,206.60 H132.50 V234.20 H130.20" fill="none" stroke="#231f20" stroke-width="0.8" />
<text x="143.30" y="226.20" font-size="9.6" text-anchor="middle" fill="#231f20" font-weight="normal" font-style="normal" >****</text>
<path d="M138.90,235.70 H141.20 V246.50 H138.90" fill="none" stroke="#231f20" stroke-width="0.8" />
<text x="151.10" y="248.20" font-size="9.6" text-anchor="middle" fill="#231f20" font-weight="normal" font-style="normal" >****</text>
<path d="M161.10,235.70 H163.40 V258.80 H161.10" fill="none" stroke="#231f20" stroke-width="0.8" />
<text x="174.40" y="253.30" font-size="9.6" text-anchor="middle" fill="#231f20" font-weight="normal" font-style="normal" >****</text>
<text x="207.90" y="213.80" font-size="9.6" text-anchor="start" fill="#000" font-weight="bold" font-style="normal" >d</text>
<line x1="250.70" y1="242.82" x2="250.70" y2="369.00" stroke="#231f20" stroke-width="1.1" />
<line x1="246.50" y1="369.00" x2="356.20" y2="369.00" stroke="#231f20" stroke-width="1.1" />
<line x1="246.50" y1="243.32" x2="250.70" y2="243.32" stroke="#231f20" stroke-width="1.1" />
<text x="242.40" y="246.77" font-size="9.7" text-anchor="end" fill="#231f20" font-weight="normal" font-style="normal" >8</text>
<line x1="246.50" y1="274.74" x2="250.70" y2="274.74" stroke="#231f20" stroke-width="1.1" />
<text x="242.40" y="278.19" font-size="9.7" text-anchor="end" fill="#231f20" font-weight="normal" font-style="normal" >6</text>
<line x1="246.50" y1="306.16" x2="250.70" y2="306.16" stroke="#231f20" stroke-width="1.1" />
<text x="242.40" y="309.61" font-size="9.7" text-anchor="end" fill="#231f20" font-weight="normal" font-style="normal" >4</text>
<line x1="246.50" y1="337.58" x2="250.70" y2="337.58" stroke="#231f20" stroke-width="1.1" />
<text x="242.40" y="341.03" font-size="9.7" text-anchor="end" fill="#231f20" font-weight="normal" font-style="normal" >2</text>
<line x1="246.50" y1="369.00" x2="250.70" y2="369.00" stroke="#231f20" stroke-width="1.1" />
<text x="242.40" y="372.45" font-size="9.7" text-anchor="end" fill="#231f20" font-weight="normal" font-style="normal" >0</text>
<line x1="267.20" y1="369.00" x2="267.20" y2="372.60" stroke="#231f20" stroke-width="1.1" />
<line x1="300.50" y1="369.00" x2="300.50" y2="372.60" stroke="#231f20" stroke-width="1.1" />
<line x1="334.60" y1="369.00" x2="334.60" y2="372.60" stroke="#231f20" stroke-width="1.1" />
<rect x="254.40" y="353.29" width="4.90" height="15.71" fill="#9d9d9d" stroke="#231f20" stroke-width="0.6" />
<circle cx="256.15" cy="353.49" r="1.50" fill="#231f20" stroke="none" stroke-width="0.5" />
<circle cx="257.55" cy="353.49" r="1.50" fill="#231f20" stroke="none" stroke-width="0.5" />
<circle cx="256.85" cy="352.69" r="1.50" fill="#231f20" stroke="none" stroke-width="0.5" />
<rect x="261.40" y="353.29" width="4.90" height="15.71" fill="#d2401e" stroke="#231f20" stroke-width="0.6" />
<circle cx="263.15" cy="353.49" r="1.50" fill="#231f20" stroke="none" stroke-width="0.5" />
<circle cx="264.55" cy="353.49" r="1.50" fill="#231f20" stroke="none" stroke-width="0.5" />
<circle cx="263.85" cy="352.69" r="1.50" fill="#231f20" stroke="none" stroke-width="0.5" />
<rect x="268.40" y="259.03" width="4.90" height="109.97" fill="#ffffff" stroke="#231f20" stroke-width="0.6" />
<line x1="270.85" y1="252.53" x2="270.85" y2="265.53" stroke="#231f20" stroke-width="0.6" />
<line x1="269.65" y1="252.53" x2="272.05" y2="252.53" stroke="#231f20" stroke-width="0.6" />
<circle cx="270.85" cy="253.53" r="1.30" fill="none" stroke="#231f20" stroke-width="0.55" />
<circle cx="271.35" cy="259.03" r="1.30" fill="none" stroke="#231f20" stroke-width="0.55" />
<circle cx="270.45" cy="264.53" r="1.30" fill="none" stroke="#231f20" stroke-width="0.55" />
<circle cx="270.85" cy="259.33" r="1.20" fill="#231f20" stroke="none" stroke-width="0.5" />
<rect x="275.40" y="284.17" width="4.90" height="84.83" fill="#f6aaa8" stroke="#231f20" stroke-width="0.6" />
<line x1="277.85" y1="280.87" x2="277.85" y2="288.97" stroke="#231f20" stroke-width="0.6" />
<line x1="276.65" y1="280.87" x2="279.05" y2="280.87" stroke="#231f20" stroke-width="0.6" />
<circle cx="277.85" cy="281.87" r="1.30" fill="none" stroke="#231f20" stroke-width="0.55" />
<circle cx="278.35" cy="284.67" r="1.30" fill="none" stroke="#231f20" stroke-width="0.55" />
<circle cx="277.45" cy="287.97" r="1.30" fill="none" stroke="#231f20" stroke-width="0.55" />
<circle cx="277.85" cy="284.47" r="1.20" fill="#231f20" stroke="none" stroke-width="0.5" />
<rect x="287.75" y="352.82" width="4.90" height="16.18" fill="#9d9d9d" stroke="#231f20" stroke-width="0.6" />
<circle cx="289.50" cy="353.02" r="1.50" fill="#231f20" stroke="none" stroke-width="0.5" />
<circle cx="290.90" cy="353.02" r="1.50" fill="#231f20" stroke="none" stroke-width="0.5" />
<circle cx="290.20" cy="352.22" r="1.50" fill="#231f20" stroke="none" stroke-width="0.5" />
<rect x="294.75" y="355.65" width="4.90" height="13.35" fill="#d2401e" stroke="#231f20" stroke-width="0.6" />
<circle cx="296.50" cy="355.85" r="1.50" fill="#231f20" stroke="none" stroke-width="0.5" />
<circle cx="297.90" cy="355.85" r="1.50" fill="#231f20" stroke="none" stroke-width="0.5" />
<circle cx="297.20" cy="355.05" r="1.50" fill="#231f20" stroke="none" stroke-width="0.5" />
<rect x="301.75" y="336.01" width="4.90" height="32.99" fill="#ffffff" stroke="#231f20" stroke-width="0.6" />
<line x1="304.20" y1="334.01" x2="304.20" y2="341.51" stroke="#231f20" stroke-width="0.6" />
<line x1="303.00" y1="334.01" x2="305.40" y2="334.01" stroke="#231f20" stroke-width="0.6" />
<circle cx="304.20" cy="335.01" r="1.30" fill="none" stroke="#231f20" stroke-width="0.55" />
<circle cx="304.70" cy="338.01" r="1.30" fill="none" stroke="#231f20" stroke-width="0.55" />
<circle cx="303.80" cy="340.51" r="1.30" fill="none" stroke="#231f20" stroke-width="0.55" />
<circle cx="304.20" cy="336.31" r="1.20" fill="#231f20" stroke="none" stroke-width="0.5" />
<rect x="308.75" y="348.73" width="4.90" height="20.27" fill="#f6aaa8" stroke="#231f20" stroke-width="0.6" />
<circle cx="310.50" cy="348.93" r="1.50" fill="#231f20" stroke="none" stroke-width="0.5" />
<circle cx="311.90" cy="348.93" r="1.50" fill="#231f20" stroke="none" stroke-width="0.5" />
<circle cx="311.20" cy="348.13" r="1.50" fill="#231f20" stroke="none" stroke-width="0.5" />
<rect x="321.50" y="353.29" width="4.90" height="15.71" fill="#9d9d9d" stroke="#231f20" stroke-width="0.6" />
<circle cx="323.25" cy="353.49" r="1.50" fill="#231f20" stroke="none" stroke-width="0.5" />
<circle cx="324.65" cy="353.49" r="1.50" fill="#231f20" stroke="none" stroke-width="0.5" />
<circle cx="323.95" cy="352.69" r="1.50" fill="#231f20" stroke="none" stroke-width="0.5" />
<rect x="328.50" y="361.62" width="4.90" height="7.38" fill="#d2401e" stroke="#231f20" stroke-width="0.6" />
<circle cx="330.25" cy="361.82" r="1.50" fill="#231f20" stroke="none" stroke-width="0.5" />
<circle cx="331.65" cy="361.82" r="1.50" fill="#231f20" stroke="none" stroke-width="0.5" />
<circle cx="330.95" cy="361.02" r="1.50" fill="#231f20" stroke="none" stroke-width="0.5" />
<rect x="335.50" y="344.96" width="4.90" height="24.04" fill="#ffffff" stroke="#231f20" stroke-width="0.6" />
<circle cx="337.25" cy="345.16" r="1.50" fill="#231f20" stroke="none" stroke-width="0.5" />
<circle cx="338.65" cy="345.16" r="1.50" fill="#231f20" stroke="none" stroke-width="0.5" />
<circle cx="337.95" cy="344.36" r="1.50" fill="#231f20" stroke="none" stroke-width="0.5" />
<rect x="342.50" y="354.23" width="4.90" height="14.77" fill="#f6aaa8" stroke="#231f20" stroke-width="0.6" />
<circle cx="344.25" cy="354.43" r="1.50" fill="#231f20" stroke="none" stroke-width="0.5" />
<circle cx="345.65" cy="354.43" r="1.50" fill="#231f20" stroke="none" stroke-width="0.5" />
<circle cx="344.95" cy="353.63" r="1.50" fill="#231f20" stroke="none" stroke-width="0.5" />
<rect x="305.00" y="233.40" width="13.90" height="6.60" fill="#9d9d9d" stroke="#231f20" stroke-width="0.7" />
<text x="326.80" y="240.20" font-size="9.3" text-anchor="start" fill="#231f20" font-weight="normal" font-style="normal" >ds<tspan font-style="italic">GFP</tspan></text>
<rect x="305.00" y="246.40" width="13.90" height="6.60" fill="#d2401e" stroke="#231f20" stroke-width="0.7" />
<text x="326.80" y="253.20" font-size="9.3" text-anchor="start" fill="#231f20" font-weight="normal" font-style="normal" >ds<tspan font-style="italic">EcR</tspan></text>
<rect x="305.00" y="259.30" width="13.90" height="6.60" fill="#ffffff" stroke="#231f20" stroke-width="0.7" />
<text x="326.80" y="266.10" font-size="9.3" text-anchor="start" fill="#231f20" font-weight="normal" font-style="normal" >ds<tspan font-style="italic">desat1</tspan></text>
<rect x="305.00" y="272.30" width="13.90" height="6.60" fill="#f6aaa8" stroke="#231f20" stroke-width="0.7" />
<text x="323.80" y="279.10" font-size="9.3" text-anchor="start" fill="#231f20" font-weight="normal" font-style="normal" >ds<tspan font-style="italic">desat1</tspan>+ds<tspan font-style="italic">EcR</tspan></text>
<text transform="translate(228.0,308.1) rotate(-90)" font-size="9.6" text-anchor="middle" fill="#231f20">Relative gene expression/<tspan font-style="italic">S7</tspan></text>
<text transform="translate(261.80,389.90) rotate(-45)" font-size="9.9" text-anchor="middle" fill="#231f20" font-style="italic" font-weight="normal">CPT1</text>
<text transform="translate(297.35,390.40) rotate(-45)" font-size="9.9" text-anchor="middle" fill="#231f20" font-style="italic" font-weight="normal">CPT2</text>
<text transform="translate(331.90,387.75) rotate(-45)" font-size="9.9" text-anchor="middle" fill="#231f20" font-style="italic" font-weight="normal">ACD</text>
<path d="M257.90,242.20 V240.20 H271.70 V242.20" fill="none" stroke="#231f20" stroke-width="0.7" />
<text x="264.80" y="240.90" font-size="9.6" text-anchor="middle" fill="#231f20" font-weight="normal" font-style="normal" >****</text>
<path d="M271.70,252.10 V250.50 H278.10 V252.10" fill="none" stroke="#231f20" stroke-width="0.7" />
<text x="275.40" y="251.30" font-size="9.6" text-anchor="middle" fill="#231f20" font-weight="normal" font-style="normal" >**</text>
<path d="M256.60,350.20 V348.40 H264.00 V350.20" fill="none" stroke="#231f20" stroke-width="0.7" />
<text x="260.50" y="345.55" font-size="10.2" text-anchor="middle" fill="#231f20" font-weight="normal" font-style="normal" >ns</text>
<path d="M290.30,350.40 V348.80 H297.20 V350.40" fill="none" stroke="#231f20" stroke-width="0.7" />
<text x="293.70" y="348.50" font-size="9.6" text-anchor="middle" fill="#231f20" font-weight="normal" font-style="normal" >**</text>
<path d="M304.60,334.60 V333.00 H311.70 V334.60" fill="none" stroke="#231f20" stroke-width="0.7" />
<text x="308.60" y="334.10" font-size="9.6" text-anchor="middle" fill="#231f20" font-weight="normal" font-style="normal" >**</text>
<path d="M290.60,324.90 V323.30 H304.60 V324.90" fill="none" stroke="#231f20" stroke-width="0.7" />
<text x="297.60" y="323.90" font-size="9.6" text-anchor="middle" fill="#231f20" font-weight="normal" font-style="normal" >**</text>
<path d="M324.70,331.20 V329.60 H338.50 V331.20" fill="none" stroke="#231f20" stroke-width="0.7" />
<text x="331.70" y="329.00" font-size="9.6" text-anchor="middle" fill="#231f20" font-weight="normal" font-style="normal" >****</text>
<path d="M324.00,349.40 V347.80 H331.60 V349.40" fill="none" stroke="#231f20" stroke-width="0.7" />
<text x="327.20" y="348.30" font-size="9.6" text-anchor="middle" fill="#231f20" font-weight="normal" font-style="normal" >****</text>
<path d="M337.90,342.60 V341.00 H345.80 V342.60" fill="none" stroke="#231f20" stroke-width="0.7" />
<text x="342.40" y="340.80" font-size="9.6" text-anchor="middle" fill="#231f20" font-weight="normal" font-style="normal" >****</text>
<text x="399.00" y="6.60" font-size="9.6" text-anchor="start" fill="#000" font-weight="bold" font-style="normal" >e</text>
<defs><radialGradient id="cellg" gradientUnits="userSpaceOnUse" cx="505" cy="80" r="180"><stop offset="0" stop-color="#fdf8da"/><stop offset="0.45" stop-color="#fdf5cc"/><stop offset="0.75" stop-color="#fdefa8"/><stop offset="1" stop-color="#fde88c"/></radialGradient><radialGradient id="nucg" cx="0.5" cy="0.45" r="0.55"><stop offset="0" stop-color="#f0f0f0"/><stop offset="1" stop-color="#b9b9b9"/></radialGradient><linearGradient id="mitog" x1="0" y1="0" x2="1" y2="0.3"><stop offset="0" stop-color="#f4edf5"/><stop offset="0.45" stop-color="#eadaec"/><stop offset="1" stop-color="#d6b4d8"/></linearGradient><radialGradient id="matg" cx="0.45" cy="0.45" r="0.6"><stop offset="0" stop-color="#f8f3f8"/><stop offset="1" stop-color="#eadcec"/></radialGradient><radialGradient id="protg" cx="0.4" cy="0.35" r="0.7"><stop offset="0" stop-color="#f58a92"/><stop offset="1" stop-color="#e23a48"/></radialGradient><radialGradient id="ldg" cx="0.5" cy="0.6" r="0.6"><stop offset="0" stop-color="#fde9bc"/><stop offset="1" stop-color="#f7b258"/></radialGradient><radialGradient id="fag" cx="0.5" cy="0.55" r="0.6"><stop offset="0" stop-color="#fdf0b8"/><stop offset="1" stop-color="#f6cc68"/></radialGradient><radialGradient id="sfag" cx="0.45" cy="0.4" r="0.65"><stop offset="0" stop-color="#fbaa88"/><stop offset="1" stop-color="#f1734f"/></radialGradient><radialGradient id="e20g" cx="0.45" cy="0.4" r="0.6"><stop offset="0" stop-color="#efe0f3"/><stop offset="1" stop-color="#caa0d9"/></radialGradient><linearGradient id="gutg" x1="0" y1="0" x2="1" y2="0"><stop offset="0" stop-color="#db5e6a"/><stop offset="0.25" stop-color="#e06f7a"/><stop offset="0.37" stop-color="#f0b0b6"/><stop offset="0.5" stop-color="#f4c2c6"/><stop offset="0.65" stop-color="#eda0a7"/><stop offset="0.85" stop-color="#e27580"/><stop offset="1" stop-color="#de6570"/></linearGradient><radialGradient id="rosg" cx="0.5" cy="0.5" r="0.5"><stop offset="0" stop-color="#fff6f0"/><stop offset="1" stop-color="#f7c0b8"/></radialGradient><pattern id="hatch" width="2.2" height="2.2" patternUnits="userSpaceOnUse" patternTransform="rotate(45)"><rect width="2.2" height="2.2" fill="#f9d794"/><rect width="0.8" height="2.2" fill="#fdebc4"/></pattern></defs>
<path d="M407.6,1.1 L685,1.1 L685,259.4 L405.3,259.4 Z" fill="#fdf8d3" stroke="none" stroke-width="0.8" />
<path d="M405.3,259.2 L685,259.2 L685,324.4 L405.6,324.4 Z" fill="#f6d1cb" stroke="none" stroke-width="0.8" />
<ellipse cx="547.0" cy="114.0" rx="133.8" ry="111.2" transform="rotate(-4.1 547.0 114.0)" fill="url(#hatch)" stroke="#f2be86" stroke-width="0.8"/>
<ellipse cx="547.0" cy="114.0" rx="127.8" ry="105.2" transform="rotate(-4.1 547.0 114.0)" fill="url(#cellg)" stroke="#f4c890" stroke-width="0.6"/>
<text x="421.60" y="196.00" font-size="8.2" text-anchor="start" fill="#231f20" font-weight="normal" font-style="normal" >Cell</text>
<text x="409.40" y="255.00" font-size="8.4" text-anchor="start" fill="#231f20" font-weight="normal" font-style="normal" >Fat body</text>
<text x="409.40" y="270.20" font-size="8.4" text-anchor="start" fill="#231f20" font-weight="normal" font-style="normal" >Hemocoel</text>
<path d="M405.4,283.3 L487,283.2 C505,277 525,270 555,268.6 C600,267.5 635,270 655,276 C668,280 678,286 685,289.5 L685,302.5 C678,305 668,309 655,312.5 C635,319 600,321.5 555,320.5 C525,319 505,312 487,307.5 L405.4,307.5 Z" fill="#f8c23a" stroke="none" stroke-width="0.8" />
<path d="M405.4,286.5 L487.5,286.3 C506,280 526,273 555,271.4 C600,270.3 634,273 653,279 C666,283 676,288.5 685,292 L685,300 C676,302.5 666,306.5 653,309.8 C634,316 600,318.5 555,317.7 C526,316.3 506,309.8 487.5,304.4 L405.4,304.4 Z" fill="url(#gutg)" stroke="none" stroke-width="0.8" />
<circle cx="548.70" cy="276.80" r="2.50" fill="url(#protg)" stroke="none" stroke-width="0.5" />
<circle cx="555.50" cy="281.60" r="2.50" fill="url(#protg)" stroke="none" stroke-width="0.5" />
<circle cx="543.30" cy="284.40" r="2.50" fill="url(#protg)" stroke="none" stroke-width="0.5" />
<circle cx="564.00" cy="285.30" r="2.50" fill="url(#protg)" stroke="none" stroke-width="0.5" />
<circle cx="543.10" cy="301.40" r="2.50" fill="url(#protg)" stroke="none" stroke-width="0.5" />
<circle cx="558.10" cy="300.00" r="2.50" fill="url(#protg)" stroke="none" stroke-width="0.5" />
<circle cx="551.60" cy="306.20" r="2.50" fill="url(#protg)" stroke="none" stroke-width="0.5" />
<text x="551.80" y="295.00" font-size="7.6" text-anchor="middle" fill="#231f20" font-weight="normal" font-style="normal" >Proteins</text>
<text x="409.40" y="298.20" font-size="8.2" text-anchor="start" fill="#231f20" font-weight="normal" font-style="normal" >Midgut</text>
<line x1="550.40" y1="270.20" x2="550.40" y2="257.50" stroke="#231f20" stroke-width="1.0" stroke-dasharray="1.2,1.2"/>
<path d="M547.4,258 L550.4,252.6 L553.4,258 Z" fill="#231f20" stroke="none" stroke-width="0.8" />
<circle cx="549.60" cy="241.20" r="10.00" fill="url(#e20g)" stroke="#ffffff" stroke-width="1.0" />
<text x="549.60" y="244.00" font-size="7.7" text-anchor="middle" fill="#231f20" font-weight="normal" font-style="normal" >20E</text>
<line x1="549.60" y1="230.80" x2="549.60" y2="221.50" stroke="#231f20" stroke-width="1.1" />
<path d="M546.6,222 L549.6,216.3 L552.6,222 Z" fill="#231f20" stroke="none" stroke-width="0.8" />
<ellipse cx="548.2" cy="189.6" rx="62" ry="26" fill="url(#nucg)" stroke="#8a8a8a" stroke-width="0.8"/>
<text x="610.80" y="182.00" font-size="7.2" text-anchor="start" fill="#231f20" font-weight="normal" font-style="normal" >Nucleus</text>
<path d="M505.30,184.70 C509.24,181.19 514.49,181.19 518.43,184.70 C514.49,188.21 509.24,188.21 505.30,184.70 Z" fill="#8e8e8e" stroke="#4a4a4a" stroke-width="0.9" />
<line x1="508.67" y1="183.20" x2="508.67" y2="186.20" stroke="#b8b8b8" stroke-width="0.6" />
<line x1="515.07" y1="183.20" x2="515.07" y2="186.20" stroke="#b8b8b8" stroke-width="0.6" />
<line x1="511.87" y1="183.20" x2="511.87" y2="186.20" stroke="#ffffff" stroke-width="0.9" />
<path d="M518.43,184.70 C522.37,181.19 527.63,181.19 531.57,184.70 C527.63,188.21 522.37,188.21 518.43,184.70 Z" fill="#8e8e8e" stroke="#4a4a4a" stroke-width="0.9" />
<line x1="521.80" y1="183.20" x2="521.80" y2="186.20" stroke="#b8b8b8" stroke-width="0.6" />
<line x1="528.20" y1="183.20" x2="528.20" y2="186.20" stroke="#b8b8b8" stroke-width="0.6" />
<line x1="525.00" y1="183.20" x2="525.00" y2="186.20" stroke="#ffffff" stroke-width="0.9" />
<path d="M531.57,184.70 C535.51,181.19 540.76,181.19 544.70,184.70 C540.76,188.21 535.51,188.21 531.57,184.70 Z" fill="#8e8e8e" stroke="#4a4a4a" stroke-width="0.9" />
<line x1="534.93" y1="183.20" x2="534.93" y2="186.20" stroke="#b8b8b8" stroke-width="0.6" />
<line x1="541.33" y1="183.20" x2="541.33" y2="186.20" stroke="#b8b8b8" stroke-width="0.6" />
<line x1="538.13" y1="183.20" x2="538.13" y2="186.20" stroke="#ffffff" stroke-width="0.9" />
<path d="M544.70,184.70 C548.64,181.19 553.89,181.19 557.83,184.70 C553.89,188.21 548.64,188.21 544.70,184.70 Z" fill="#8e8e8e" stroke="#4a4a4a" stroke-width="0.9" />
<line x1="548.07" y1="183.20" x2="548.07" y2="186.20" stroke="#b8b8b8" stroke-width="0.6" />
<line x1="554.47" y1="183.20" x2="554.47" y2="186.20" stroke="#b8b8b8" stroke-width="0.6" />
<line x1="551.27" y1="183.20" x2="551.27" y2="186.20" stroke="#ffffff" stroke-width="0.9" />
<path d="M557.83,184.70 C561.77,181.19 567.03,181.19 570.97,184.70 C567.03,188.21 561.77,188.21 557.83,184.70 Z" fill="#8e8e8e" stroke="#4a4a4a" stroke-width="0.9" />
<line x1="561.20" y1="183.20" x2="561.20" y2="186.20" stroke="#b8b8b8" stroke-width="0.6" />
<line x1="567.60" y1="183.20" x2="567.60" y2="186.20" stroke="#b8b8b8" stroke-width="0.6" />
<line x1="564.40" y1="183.20" x2="564.40" y2="186.20" stroke="#ffffff" stroke-width="0.9" />
<path d="M570.97,184.70 C574.91,181.19 580.16,181.19 584.10,184.70 C580.16,188.21 574.91,188.21 570.97,184.70 Z" fill="#8e8e8e" stroke="#4a4a4a" stroke-width="0.9" />
<line x1="574.33" y1="183.20" x2="574.33" y2="186.20" stroke="#b8b8b8" stroke-width="0.6" />
<line x1="580.73" y1="183.20" x2="580.73" y2="186.20" stroke="#b8b8b8" stroke-width="0.6" />
<line x1="577.53" y1="183.20" x2="577.53" y2="186.20" stroke="#ffffff" stroke-width="0.9" />
<path d="M505.30,184.70 L503.10,182.10 M505.30,184.70 L503.10,187.30 M584.10,184.70 L586.30,182.10 M584.10,184.70 L586.30,187.30" fill="none" stroke="#4a4a4a" stroke-width="0.9" />
<path d="M520.2,181.5 V174.6 H529" fill="none" stroke="#231f20" stroke-width="0.9" />
<path d="M528.5,172.4 L532.3,174.6 L528.5,176.8 Z" fill="#231f20" stroke="none" stroke-width="0.8" />
<path d="M535.50,168.00 L535.73,167.63 L535.97,167.27 L536.20,166.94 L536.43,166.66 L536.67,166.44 L536.90,166.29 L537.13,166.21 L537.37,166.21 L537.60,166.29 L537.83,166.44 L538.07,166.66 L538.30,166.94 L538.53,167.27 L538.77,167.63 L539.00,168.00 L539.23,168.37 L539.47,168.73 L539.70,169.06 L539.93,169.34 L540.17,169.56 L540.40,169.71 L540.63,169.79 L540.87,169.79 L541.10,169.71 L541.33,169.56 L541.57,169.34 L541.80,169.06 L542.03,168.73 L542.27,168.37 L542.50,168.00 L542.73,167.63 L542.97,167.27 L543.20,166.94 L543.43,166.66 L543.67,166.44 L543.90,166.29 L544.13,166.21 L544.37,166.21 L544.60,166.29 L544.83,166.44 L545.07,166.66 L545.30,166.94 L545.53,167.27 L545.77,167.63 L546.00,168.00 L546.23,168.37 L546.47,168.73 L546.70,169.06 L546.93,169.34 L547.17,169.56 L547.40,169.71 L547.63,169.79 L547.87,169.79 L548.10,169.71 L548.33,169.56 L548.57,169.34 L548.80,169.06 L549.03,168.73 L549.27,168.37 L549.50,168.00 L549.73,167.63 L549.97,167.27 L550.20,166.94 L550.43,166.66 L550.67,166.44 L550.90,166.29 L551.13,166.21 L551.37,166.21 L551.60,166.29 L551.83,166.44 L552.07,166.66 L552.30,166.94 L552.53,167.27 L552.77,167.63 L553.00,168.00 L553.23,168.37 L553.47,168.73 L553.70,169.06 L553.93,169.34 L554.17,169.56 L554.40,169.71 L554.63,169.79 L554.87,169.79 L555.10,169.71 L555.33,169.56 L555.57,169.34 L555.80,169.06 L556.03,168.73 L556.27,168.37 L556.50,168.00" fill="none" stroke="#231f20" stroke-width="1.15" stroke-linejoin="round"/>
<path d="M553.20,174.20 L553.43,173.83 L553.67,173.47 L553.90,173.14 L554.13,172.86 L554.37,172.64 L554.60,172.49 L554.83,172.41 L555.07,172.41 L555.30,172.49 L555.53,172.64 L555.77,172.86 L556.00,173.14 L556.23,173.47 L556.47,173.83 L556.70,174.20 L556.93,174.57 L557.17,174.93 L557.40,175.26 L557.63,175.54 L557.87,175.76 L558.10,175.91 L558.33,175.99 L558.57,175.99 L558.80,175.91 L559.03,175.76 L559.27,175.54 L559.50,175.26 L559.73,174.93 L559.97,174.57 L560.20,174.20 L560.43,173.83 L560.67,173.47 L560.90,173.14 L561.13,172.86 L561.37,172.64 L561.60,172.49 L561.83,172.41 L562.07,172.41 L562.30,172.49 L562.53,172.64 L562.77,172.86 L563.00,173.14 L563.23,173.47 L563.47,173.83 L563.70,174.20 L563.93,174.57 L564.17,174.93 L564.40,175.26 L564.63,175.54 L564.87,175.76 L565.10,175.91 L565.33,175.99 L565.57,175.99 L565.80,175.91 L566.03,175.76 L566.27,175.54 L566.50,175.26 L566.73,174.93 L566.97,174.57 L567.20,174.20 L567.43,173.83 L567.67,173.47 L567.90,173.14 L568.13,172.86 L568.37,172.64 L568.60,172.49 L568.83,172.41 L569.07,172.41 L569.30,172.49 L569.53,172.64 L569.77,172.86 L570.00,173.14 L570.23,173.47 L570.47,173.83 L570.70,174.20 L570.93,174.57 L571.17,174.93 L571.40,175.26 L571.63,175.54 L571.87,175.76 L572.10,175.91 L572.33,175.99 L572.57,175.99 L572.80,175.91 L573.03,175.76 L573.27,175.54 L573.50,175.26 L573.73,174.93 L573.97,174.57 L574.20,174.20" fill="none" stroke="#231f20" stroke-width="1.15" stroke-linejoin="round"/>
<path d="M534.80,178.00 L535.03,177.63 L535.25,177.27 L535.48,176.94 L535.71,176.66 L535.93,176.44 L536.16,176.29 L536.39,176.21 L536.61,176.21 L536.84,176.29 L537.07,176.44 L537.29,176.66 L537.52,176.94 L537.75,177.27 L537.97,177.63 L538.20,178.00 L538.43,178.37 L538.65,178.73 L538.88,179.06 L539.11,179.34 L539.33,179.56 L539.56,179.71 L539.79,179.79 L540.01,179.79 L540.24,179.71 L540.47,179.56 L540.69,179.34 L540.92,179.06 L541.15,178.73 L541.37,178.37 L541.60,178.00 L541.83,177.63 L542.05,177.27 L542.28,176.94 L542.51,176.66 L542.73,176.44 L542.96,176.29 L543.19,176.21 L543.41,176.21 L543.64,176.29 L543.87,176.44 L544.09,176.66 L544.32,176.94 L544.55,177.27 L544.77,177.63 L545.00,178.00 L545.23,178.37 L545.45,178.73 L545.68,179.06 L545.91,179.34 L546.13,179.56 L546.36,179.71 L546.59,179.79 L546.81,179.79 L547.04,179.71 L547.27,179.56 L547.49,179.34 L547.72,179.06 L547.95,178.73 L548.17,178.37 L548.40,178.00 L548.63,177.63 L548.85,177.27 L549.08,176.94 L549.31,176.66 L549.53,176.44 L549.76,176.29 L549.99,176.21 L550.21,176.21 L550.44,176.29 L550.67,176.44 L550.89,176.66 L551.12,176.94 L551.35,177.27 L551.57,177.63 L551.80,178.00 L552.03,178.37 L552.25,178.73 L552.48,179.06 L552.71,179.34 L552.93,179.56 L553.16,179.71 L553.39,179.79 L553.61,179.79 L553.84,179.71 L554.07,179.56 L554.29,179.34 L554.52,179.06 L554.75,178.73 L554.97,178.37 L555.20,178.00" fill="none" stroke="#231f20" stroke-width="1.15" stroke-linejoin="round"/>
<line x1="561.60" y1="158.50" x2="566.20" y2="168.20" stroke="#231f20" stroke-width="0.8" />
<rect x="557.80" y="189.80" width="18.50" height="10.00" fill="#cde3f5" stroke="none" stroke-width="0.6" rx="2"/>
<rect x="537.40" y="189.80" width="20.40" height="10.00" fill="#d5e9c2" stroke="none" stroke-width="0.6" rx="2"/>
<text x="547.60" y="197.60" font-size="7.6" text-anchor="middle" fill="#231f20" font-weight="normal" font-style="normal" >EcR</text>
<text x="567.00" y="197.60" font-size="7.6" text-anchor="middle" fill="#231f20" font-weight="normal" font-style="normal" >USP</text>
<circle cx="549.70" cy="205.60" r="6.70" fill="url(#e20g)" stroke="none" stroke-width="0.5" />
<text x="549.70" y="208.30" font-size="6.6" text-anchor="middle" fill="#231f20" font-weight="normal" font-style="normal" >20E</text>
<path d="M531.3,194 L525.6,190" fill="none" stroke="#231f20" stroke-width="0.9" />
<path d="M524.0,188.8 L528.4,189.3 L526.6,192.4 Z" fill="#231f20" stroke="none" stroke-width="0.8" />
<ellipse cx="619.5" cy="115.75" rx="51" ry="28.9" fill="url(#mitog)" stroke="#8c4670" stroke-width="1.5"/>
<path d="M581,118 C581,104 588,95 596,94 L600.3,94.5 L600.3,107.8 A2.2,2.2 0 0 0 604.7,107.8 L604.7,93.6 C615,91.5 628,91.5 635.8,93 L637.8,93.4 L637.8,103.8 A2.2,2.2 0 0 0 642.2,103.8 L642.2,94.5 C653,96 661,101 663.5,108 L663.8,111.3 L654.5,111.3 A2.2,2.2 0 0 0 654.5,115.7 L665,115.7 C666,124 663,130 659.5,133 L659.2,133 L659.2,126 A2.1,2.1 0 0 0 655,126 L655,136 L649.7,137.6 L649.7,128.7 A2.2,2.2 0 0 0 645.3,128.7 L645.3,139 C632,141.5 618,141.5 611,140.8 L609.3,140.6 L609.3,132.8 A1.8,1.8 0 0 0 605.7,132.8 L605.7,140.3 L602.2,140 L602.2,128.7 A2.2,2.2 0 0 0 597.8,128.7 L597.8,139.2 C587,137 581,129 581,118 Z" fill="url(#matg)" stroke="#8c4670" stroke-width="1.0" />
<rect x="555.80" y="109.80" width="15.70" height="8.60" fill="#5cc8d8" stroke="#6a5a6a" stroke-width="0.7" rx="1.2"/>
<text x="563.65" y="116.08" font-size="5.5" text-anchor="middle" fill="#222" font-weight="normal" font-style="normal" >CPT1</text>
<rect x="578.60" y="112.80" width="16.50" height="8.20" fill="#f7f46c" stroke="#8a8a40" stroke-width="0.7" rx="1.2"/>
<text x="586.85" y="118.92" font-size="5.6" text-anchor="middle" fill="#222" font-weight="normal" font-style="normal" >CPT2</text>
<rect x="615.30" y="98.40" width="18.00" height="7.60" fill="#f9c09a" stroke="#b86848" stroke-width="0.7" rx="1.2"/>
<text x="624.30" y="104.54" font-size="6.5" text-anchor="middle" fill="#222" font-weight="normal" font-style="normal" >ACD</text>
<rect x="542.70" y="140.40" width="14.10" height="6.80" fill="#5cc8d8" stroke="#6a5a6a" stroke-width="0.7" rx="1.2"/>
<text x="549.75" y="145.60" font-size="5.0" text-anchor="middle" fill="#222" font-weight="normal" font-style="normal" >CPT1</text>
<rect x="561.10" y="145.80" width="14.50" height="7.40" fill="#f9c09a" stroke="#b86848" stroke-width="0.7" rx="1.2"/>
<text x="568.35" y="151.52" font-size="5.6" text-anchor="middle" fill="#222" font-weight="normal" font-style="normal" >ACD</text>
<rect x="544.00" y="152.30" width="14.40" height="6.90" fill="#f7f46c" stroke="#8a8a40" stroke-width="0.7" rx="1.2"/>
<text x="551.20" y="157.55" font-size="5.0" text-anchor="middle" fill="#222" font-weight="normal" font-style="normal" >CPT2</text>
<text x="625.30" y="115.20" font-size="5.7" text-anchor="middle" fill="#222" font-weight="normal" font-style="normal" >FA</text>
<text x="625.30" y="121.60" font-size="5.7" text-anchor="middle" fill="#222" font-weight="normal" font-style="normal" >β-oxidation</text>
<path d="M615.96,110.21 L616.66,109.94 L617.38,109.70 L618.12,109.47 L618.88,109.26 L619.66,109.08 L620.45,108.92 L621.25,108.78 L622.06,108.66 L622.89,108.56 L623.72,108.49 L624.55,108.43 L625.39,108.41 L626.23,108.40 L627.07,108.42 L627.91,108.46 L628.74,108.52 L629.56,108.61 L630.38,108.72 L631.19,108.85 L631.99,109.00" fill="none" stroke="#231f20" stroke-width="0.9" />
<path d="M634.15,109.39 L631.69,110.68 L632.28,107.33 Z" fill="#231f20" stroke="none" stroke-width="0.8" />
<path d="M640.34,112.66 L640.72,112.99 L641.08,113.32 L641.42,113.67 L641.73,114.02 L642.02,114.37 L642.28,114.73 L642.52,115.10 L642.74,115.48 L642.92,115.85 L643.09,116.24 L643.22,116.62 L643.33,117.01 L643.41,117.40 L643.47,117.79 L643.50,118.18 L643.50,118.57 L643.47,118.97 L643.42,119.36 L643.34,119.75 L643.23,120.14" fill="none" stroke="#231f20" stroke-width="0.9" />
<path d="M642.72,122.28 L641.58,119.74 L644.89,120.53 Z" fill="#231f20" stroke="none" stroke-width="0.8" />
<path d="M636.04,126.59 L635.34,126.86 L634.62,127.10 L633.88,127.33 L633.12,127.54 L632.34,127.72 L631.55,127.88 L630.75,128.02 L629.94,128.14 L629.11,128.24 L628.28,128.31 L627.45,128.37 L626.61,128.39 L625.77,128.40 L624.93,128.38 L624.09,128.34 L623.26,128.28 L622.44,128.19 L621.62,128.08 L620.81,127.95 L620.01,127.80" fill="none" stroke="#231f20" stroke-width="0.9" />
<path d="M617.85,127.41 L620.31,126.12 L619.72,129.47 Z" fill="#231f20" stroke="none" stroke-width="0.8" />
<path d="M611.66,124.14 L611.24,123.77 L610.84,123.40 L610.48,123.02 L610.14,122.63 L609.83,122.23 L609.56,121.82 L609.31,121.41 L609.10,120.99 L608.91,120.56 L608.77,120.14 L608.65,119.71 L608.57,119.27 L608.52,118.84 L608.50,118.40 L608.52,117.96 L608.57,117.53 L608.65,117.09 L608.77,116.66 L608.91,116.24 L609.10,115.81" fill="none" stroke="#231f20" stroke-width="0.9" />
<path d="M609.89,113.76 L610.68,116.43 L607.51,115.20 Z" fill="#231f20" stroke="none" stroke-width="0.8" />
<path d="M596.6,116 C599,112 602,110.5 605.5,110.5" fill="none" stroke="#231f20" stroke-width="0.9" />
<path d="M604.5,108.5 L608,110.6 L604.5,112.5 Z" fill="#231f20" stroke="none" stroke-width="0.8" />
<circle cx="599.90" cy="109.50" r="1.60" fill="#f08a72" stroke="none" stroke-width="0.5" />
<circle cx="603.20" cy="116.30" r="1.60" fill="#f08a72" stroke="none" stroke-width="0.5" />
<circle cx="574.40" cy="113.60" r="1.00" fill="#f08a72" stroke="none" stroke-width="0.5" />
<line x1="571.50" y1="113.60" x2="578.50" y2="116.50" stroke="#231f20" stroke-width="0.6" />
<text x="608.30" y="156.00" font-size="7.6" text-anchor="start" fill="#231f20" font-weight="normal" font-style="normal" >Mitochondrion</text>
<path d="M536.8,127 C540,119 545,114.5 552.5,113.6" fill="none" stroke="#231f20" stroke-width="1.2" />
<path d="M551.5,111.4 L555.6,113.6 L551.5,115.8 Z" fill="#231f20" stroke="none" stroke-width="0.8" />
<path d="M561,143.2 C561.5,137 563,133 565.5,130.5" fill="none" stroke="#231f20" stroke-width="1.2" />
<path d="M563.3,130.3 L567.0,127.8 L566.8,132.2 Z" fill="#231f20" stroke="none" stroke-width="0.8" />
<circle cx="501.60" cy="49.80" r="6.90" fill="url(#ldg)" stroke="#e0703c" stroke-width="0.85" />
<circle cx="515.90" cy="42.90" r="6.00" fill="url(#ldg)" stroke="#e0703c" stroke-width="0.85" />
<circle cx="511.60" cy="53.30" r="3.10" fill="url(#ldg)" stroke="#e0703c" stroke-width="0.85" />
<circle cx="521.40" cy="52.40" r="2.90" fill="url(#ldg)" stroke="#e0703c" stroke-width="0.85" />
<circle cx="503.40" cy="60.20" r="4.80" fill="url(#ldg)" stroke="#e0703c" stroke-width="0.85" />
<circle cx="515.90" cy="62.40" r="6.60" fill="url(#ldg)" stroke="#e0703c" stroke-width="0.85" />
<circle cx="512.40" cy="78.60" r="2.90" fill="url(#fag)" stroke="#e6b850" stroke-width="0.5" />
<circle cx="521.40" cy="79.70" r="2.90" fill="url(#fag)" stroke="#e6b850" stroke-width="0.5" />
<circle cx="504.10" cy="85.20" r="2.90" fill="url(#fag)" stroke="#e6b850" stroke-width="0.5" />
<circle cx="512.80" cy="86.90" r="2.90" fill="url(#fag)" stroke="#e6b850" stroke-width="0.5" />
<circle cx="522.40" cy="88.60" r="2.90" fill="url(#fag)" stroke="#e6b850" stroke-width="0.5" />
<circle cx="505.50" cy="94.10" r="2.90" fill="url(#fag)" stroke="#e6b850" stroke-width="0.5" />
<circle cx="515.90" cy="95.90" r="2.90" fill="url(#fag)" stroke="#e6b850" stroke-width="0.5" />
<circle cx="506.40" cy="109.70" r="3.20" fill="url(#sfag)" stroke="#e2603f" stroke-width="0.4" />
<circle cx="515.20" cy="111.80" r="3.20" fill="url(#sfag)" stroke="#e2603f" stroke-width="0.4" />
<circle cx="521.30" cy="112.30" r="3.20" fill="url(#sfag)" stroke="#e2603f" stroke-width="0.4" />
<circle cx="526.70" cy="114.50" r="3.20" fill="url(#sfag)" stroke="#e2603f" stroke-width="0.4" />
<circle cx="501.30" cy="115.50" r="3.20" fill="url(#sfag)" stroke="#e2603f" stroke-width="0.4" />
<circle cx="508.80" cy="115.50" r="3.20" fill="url(#sfag)" stroke="#e2603f" stroke-width="0.4" />
<circle cx="513.60" cy="118.20" r="3.20" fill="url(#sfag)" stroke="#e2603f" stroke-width="0.4" />
<circle cx="518.40" cy="118.20" r="3.20" fill="url(#sfag)" stroke="#e2603f" stroke-width="0.4" />
<circle cx="540.00" cy="111.80" r="3.20" fill="url(#sfag)" stroke="#e2603f" stroke-width="0.4" />
<circle cx="549.10" cy="106.20" r="3.20" fill="url(#sfag)" stroke="#e2603f" stroke-width="0.4" />
<circle cx="534.10" cy="119.80" r="3.20" fill="url(#sfag)" stroke="#e2603f" stroke-width="0.4" />
<circle cx="496.80" cy="123.80" r="3.20" fill="url(#sfag)" stroke="#e2603f" stroke-width="0.4" />
<circle cx="504.00" cy="123.00" r="3.20" fill="url(#sfag)" stroke="#e2603f" stroke-width="0.4" />
<circle cx="508.50" cy="125.10" r="3.20" fill="url(#sfag)" stroke="#e2603f" stroke-width="0.4" />
<circle cx="512.80" cy="125.10" r="3.20" fill="url(#sfag)" stroke="#e2603f" stroke-width="0.4" />
<circle cx="520.80" cy="122.50" r="3.20" fill="url(#sfag)" stroke="#e2603f" stroke-width="0.4" />
<circle cx="526.10" cy="123.80" r="3.20" fill="url(#sfag)" stroke="#e2603f" stroke-width="0.4" />
<circle cx="501.60" cy="129.40" r="3.20" fill="url(#sfag)" stroke="#e2603f" stroke-width="0.4" />
<circle cx="516.00" cy="128.60" r="3.20" fill="url(#sfag)" stroke="#e2603f" stroke-width="0.4" />
<circle cx="528.00" cy="130.50" r="3.20" fill="url(#sfag)" stroke="#e2603f" stroke-width="0.4" />
<circle cx="505.60" cy="132.60" r="3.20" fill="url(#sfag)" stroke="#e2603f" stroke-width="0.4" />
<circle cx="510.70" cy="133.40" r="3.20" fill="url(#sfag)" stroke="#e2603f" stroke-width="0.4" />
<circle cx="520.30" cy="133.70" r="3.20" fill="url(#sfag)" stroke="#e2603f" stroke-width="0.4" />
<circle cx="500.80" cy="137.40" r="3.20" fill="url(#sfag)" stroke="#e2603f" stroke-width="0.4" />
<circle cx="511.50" cy="138.20" r="3.20" fill="url(#sfag)" stroke="#e2603f" stroke-width="0.4" />
<circle cx="521.90" cy="138.50" r="3.20" fill="url(#sfag)" stroke="#e2603f" stroke-width="0.4" />
<circle cx="530.90" cy="137.90" r="3.20" fill="url(#sfag)" stroke="#e2603f" stroke-width="0.4" />
<text x="468.40" y="59.60" font-size="6.8" text-anchor="middle" fill="#7d7d7d" font-weight="normal" font-style="normal" >Triglyceride</text>
<text x="468.40" y="68.00" font-size="6.8" text-anchor="middle" fill="#7d7d7d" font-weight="normal" font-style="normal" >(TAG)</text>
<line x1="468.40" y1="80.50" x2="468.40" y2="73.50" stroke="#6a6a6a" stroke-width="1.0" />
<path d="M466.3,74.2 L468.4,70.6 L470.5,74.2 Z" fill="#6a6a6a" stroke="none" stroke-width="0.8" />
<text x="468.70" y="87.20" font-size="6.8" text-anchor="middle" fill="#7d7d7d" font-weight="normal" font-style="normal" >Unsaturated FAs</text>
<text x="468.60" y="96.20" font-size="6.8" text-anchor="middle" fill="#7d7d7d" font-weight="normal" font-style="normal" >(C16:1, C18:1)</text>
<text x="433.60" y="112.80" font-size="8.3" text-anchor="start" fill="#c8202f" font-weight="normal" font-style="normal" >Desat1</text>
<line x1="468.40" y1="117.50" x2="468.40" y2="102.50" stroke="#231f20" stroke-width="1.0" />
<path d="M466.2,103 L468.4,99.2 L470.6,103 Z" fill="#231f20" stroke="none" stroke-width="0.8" />
<path d="M463.6,106 L473.4,115.2 M473.4,106 L463.6,115.2" fill="none" stroke="#ffffff" stroke-width="3.4" stroke-linecap="round"/>
<path d="M463.6,106 L473.4,115.2 M473.4,106 L463.6,115.2" fill="none" stroke="#d02a3c" stroke-width="1.15" />
<text x="468.00" y="124.40" font-size="7.0" text-anchor="middle" fill="#231f20" font-weight="normal" font-style="normal" >Saturated FAs</text>
<text x="467.80" y="133.40" font-size="7.0" text-anchor="middle" fill="#231f20" font-weight="normal" font-style="normal" >(C16:0, C18:0)</text>
<text x="484.00" y="151.80" font-size="5.9" text-anchor="start" fill="#c8202f" font-weight="bold" font-style="normal" >SFAs accumulation</text>
<path d="M611.60,64.00 L603.24,65.34 L609.76,68.69 L601.21,67.74 L604.60,72.44 L597.56,69.41 L597.14,74.53 L593.00,70.00 L588.86,74.53 L588.44,69.41 L581.40,72.44 L584.79,67.74 L576.24,68.69 L582.76,65.34 L574.40,64.00 L582.76,62.66 L576.24,59.31 L584.79,60.26 L581.40,55.56 L588.44,58.59 L588.86,53.47 L593.00,58.00 L597.14,53.47 L597.56,58.59 L604.60,55.56 L601.21,60.26 L609.76,59.31 L603.24,62.66 Z" fill="url(#rosg)" stroke="#d8202c" stroke-width="1.3" />
<text x="593.00" y="66.50" font-size="6.8" text-anchor="middle" fill="#2a2a2a" font-weight="bold" font-style="normal" >ROS</text>
<line x1="600.40" y1="85.90" x2="597.90" y2="80.09" stroke="#231f20" stroke-width="1.3" />
<path d="M596.40,76.60 L600.01,79.18 L595.79,81.00 Z" fill="#231f20" stroke="none" stroke-width="0.8" />
<line x1="589.40" y1="51.40" x2="585.69" y2="45.77" stroke="#231f20" stroke-width="1.3" />
<path d="M583.60,42.60 L587.61,44.51 L583.77,47.04 Z" fill="#231f20" stroke="none" stroke-width="0.8" />
<line x1="577.10" y1="33.30" x2="573.46" y2="28.36" stroke="#231f20" stroke-width="1.3" />
<path d="M571.20,25.30 L575.31,26.99 L571.60,29.72 Z" fill="#231f20" stroke="none" stroke-width="0.8" />
<text x="581.00" y="40.80" font-size="7.0" text-anchor="middle" fill="#231f20" font-weight="bold" font-style="normal" >Apoptosis</text>
<text x="550.50" y="23.40" font-size="7.6" text-anchor="middle" fill="#231f20" font-weight="bold" font-style="normal" >Cell death</text>
<path d="M507.4,357.9 L494.4,347.3" fill="none" stroke="#7a7050" stroke-width="0.6" />
<path d="M507.4,358.5 L488.7,353" fill="none" stroke="#7a7050" stroke-width="0.6" />
<path d="M508.2,362.8 L492.8,370.1" fill="none" stroke="#7a7050" stroke-width="0.6" />
<path d="M508.2,363.5 L495,373" fill="none" stroke="#7a7050" stroke-width="0.6" />
<path d="M532,364.7 L540,382.4 L556.8,390.8 L575.6,401.1 L594.3,403.9" fill="none" stroke="#3a3220" stroke-width="1.1" stroke-linejoin="round" stroke-linecap="round"/>
<path d="M529.6,362.3 L551.9,390.8 L556,393" fill="none" stroke="#3a3220" stroke-width="1.1" stroke-linejoin="round" stroke-linecap="round"/>
<path d="M529,355 C540,354.5 560,358 576,364 C577,368.5 573,373 566,373.2 C553,373 540,370 532,365 Z" fill="#efe6d8" stroke="#b8a890" stroke-width="0.5" />
<path d="M530,355.3 C541,355 559,358.5 574.5,364.3 C573,369.5 568,371.4 562,371.4 C550,371 540,368.5 532.5,364 Z" fill="#e6304a" stroke="none" stroke-width="0.8" />
<path d="M540,361 C550,361.5 560,363.5 569,366.5 C560,368 548,367 540,363.8 Z" fill="#f27688" stroke="none" stroke-width="0.8" />
<path d="M530.8,347.8 C545,349.5 565,354 586,361.5 L588.2,368.8 C575,368.5 555,361.5 531,352.5 Z" fill="#d6cbb4" stroke="#8f7f60" stroke-width="0.5" />
<path d="M534,350 L585,364.8 M538,351.5 L582,362" fill="none" stroke="#9a8a6a" stroke-width="0.4" />
<path d="M513.5,351 C514,347 517.5,345 523,344.8 C528,345 531,347.5 531,352 C531,358.5 528.5,365.5 524.5,368.7 C520.5,369.2 516,366 514.5,361 Z" fill="#8a7656" stroke="#5e4f36" stroke-width="0.5" />
<path d="M516,356 C519.5,355 525,355.5 530,357 M516.5,360.5 C519.5,360 524,360.5 528.5,362" fill="none" stroke="#a89270" stroke-width="0.6" />
<circle cx="508.60" cy="359.80" r="2.60" fill="#c9c48c" stroke="#8a8456" stroke-width="0.4" />
<path d="M509.8,364.4 L479.8,383.1" fill="none" stroke="#3a3220" stroke-width="1.1" stroke-linejoin="round" stroke-linecap="round"/>
<path d="M510.7,365.2 L509.8,370.9 L480.6,391.2" fill="none" stroke="#3a3220" stroke-width="1.1" stroke-linejoin="round" stroke-linecap="round"/>
<path d="M513.4,367.2 L494.8,394.5 L477.4,402" fill="none" stroke="#3a3220" stroke-width="1.1" stroke-linejoin="round" stroke-linecap="round"/>
<path d="M520.9,348.6 L523.4,335.5 L527.1,348.6 L526.5,368.5" fill="none" stroke="#3a3220" stroke-width="1.1" stroke-linejoin="round" stroke-linecap="round"/>
<path d="M533.3,358.5 L546.6,336.6 L579.3,370.2 L596.2,382.4 L608.3,389" fill="none" stroke="#3a3220" stroke-width="1.1" stroke-linejoin="round" stroke-linecap="round"/>
<path d="M535.8,362.3 L554,342.2 L570.9,370.2 L586.8,383.4 L601.8,390 L618.6,390.8 L639.2,387.1" fill="none" stroke="#3a3220" stroke-width="1.1" stroke-linejoin="round" stroke-linecap="round"/>
<line x1="408.30" y1="324.90" x2="529.60" y2="353.60" stroke="#231f20" stroke-width="1.3" stroke-dasharray="1.3,1.3"/>
<line x1="684.50" y1="324.00" x2="582.90" y2="362.30" stroke="#231f20" stroke-width="1.3" stroke-dasharray="1.3,1.3"/>
</svg></body></html>
